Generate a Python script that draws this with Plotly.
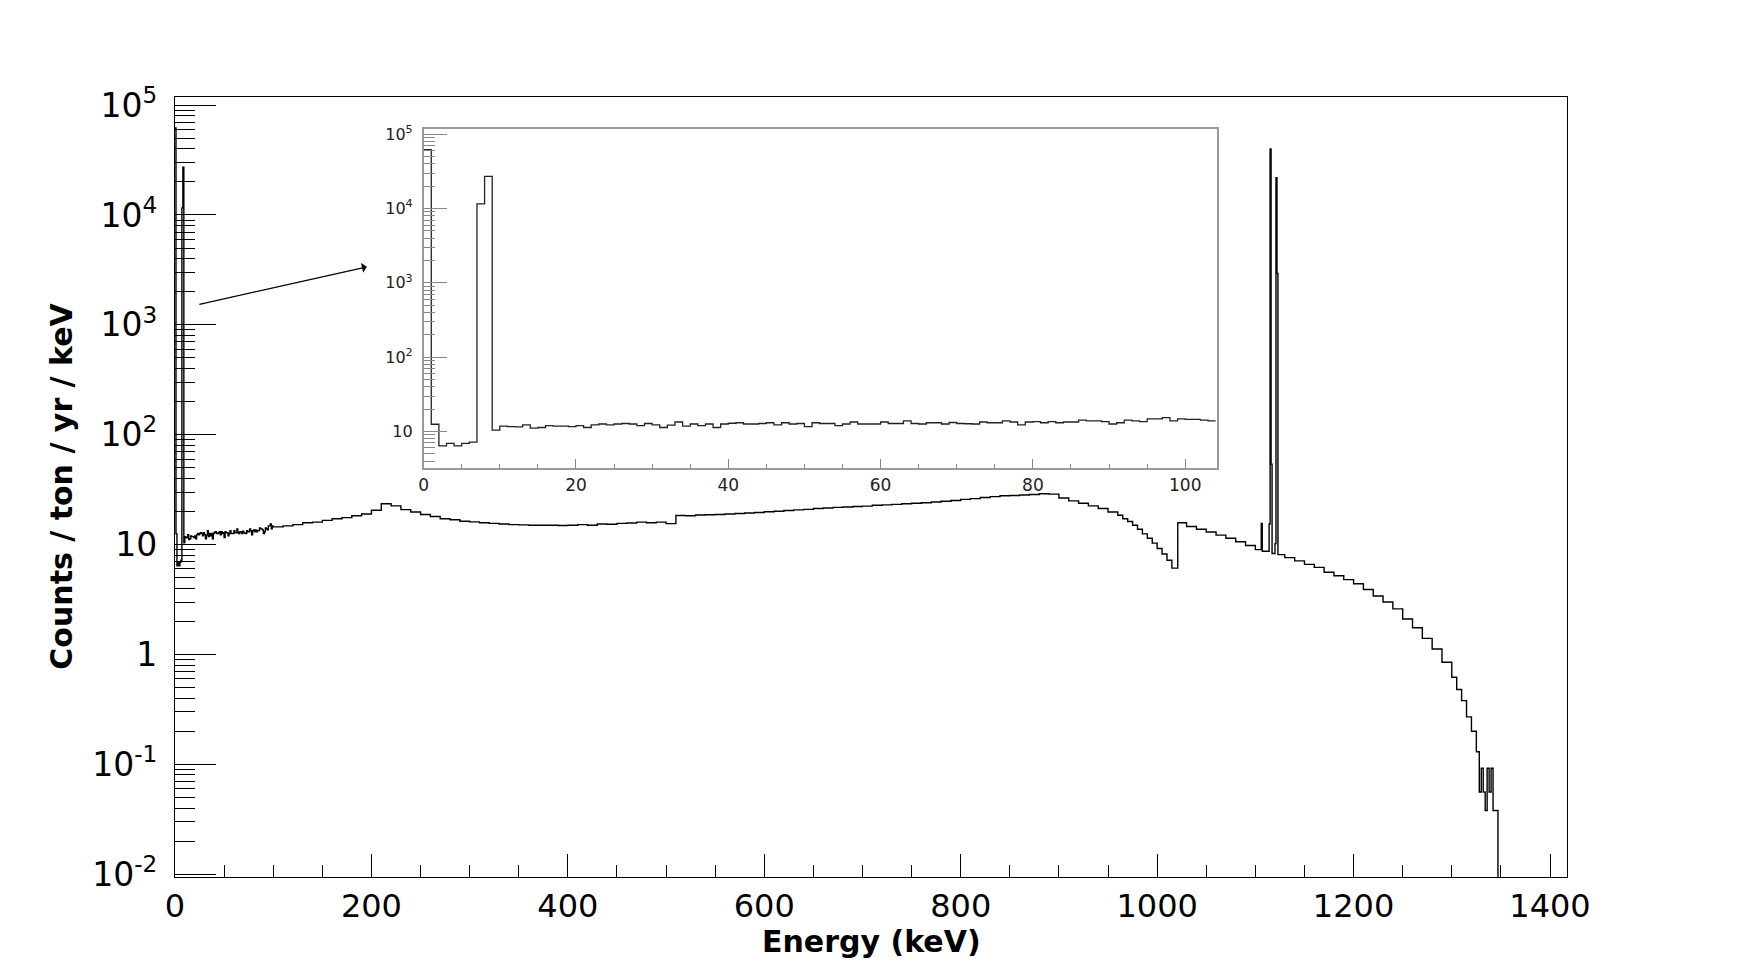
import plotly.graph_objects as go

# ---------------- data ----------------
# Inset / low-energy spectrum: 1 keV bins starting at 0 keV
inset_counts = [
    62000, 12.5, 6.4, 6.9, 6.4, 6.9, 7.2, 11600, 27200, 10.4,
    11.8, 11.6, 11.5, 12.3, 11.1, 11.3, 12.0, 11.8, 11.8, 11.6,
    12.0, 11.3, 12.3, 12.6, 12.3, 12.6, 12.8, 12.6, 12.0, 12.8,
    12.3, 11.3, 12.2, 13.4, 11.8, 12.6, 12.0, 12.6, 11.3, 12.6,
    12.9, 13.1, 12.6, 12.6, 12.8, 13.1, 12.3, 13.1, 12.6, 12.8,
    11.6, 13.1, 12.8, 12.8, 12.0, 12.6, 13.4, 12.6, 12.6, 12.6,
    13.4, 12.8, 12.8, 13.9, 12.8, 12.6, 13.1, 13.1, 12.6, 13.2,
    12.8, 12.7, 12.6, 13.4, 13.1, 13.1, 13.9, 13.4, 12.3, 13.4,
    13.6, 13.1, 13.6, 13.1, 13.4, 13.4, 14.2, 13.9, 13.9, 13.6,
    12.6, 13.1, 14.2, 13.9, 13.6, 14.8, 14.8, 15.4, 13.9, 14.8,
    14.5, 14.5, 14.2, 13.9,
]

# Full spectrum above 100 keV: bin edges (keV) and counts / ton / yr / keV
main_hi_edges = [
    100, 110, 120, 130, 140, 150, 160, 170, 180, 190,
    200, 210, 220, 230, 240, 250, 260, 270, 280, 290,
    300, 310, 320, 330, 340, 350, 360, 370, 380, 390,
    400, 410, 420, 430, 440, 450, 460, 470, 480, 490,
    500, 510, 520, 530, 540, 550, 560, 570, 580, 590,
    600, 610, 620, 630, 640, 650, 660, 670, 680, 690,
    700, 710, 720, 730, 740, 750, 760, 770, 780, 790,
    800, 810, 820, 830, 840, 850, 860, 870, 880, 890,
    900, 910, 920, 930, 940, 950,
    960, 965, 970, 975, 980, 985, 990, 995, 1000, 1005, 1010, 1015,
    1021, 1030, 1040, 1050, 1060, 1070, 1080, 1090,
    1100, 1106, 1107, 1114, 1115, 1116, 1117, 1120, 1121, 1122, 1123,
    1130, 1140, 1150, 1160, 1170, 1180, 1190, 1200, 1210, 1220,
    1230, 1240, 1250, 1260, 1270, 1280, 1290,
    1300, 1305, 1310, 1315, 1320, 1325,
    1328, 1330, 1332, 1334, 1336, 1338, 1340, 1342, 1344, 1346, 1347,
]
main_hi_counts = [
    14.5, 14.8, 15.2, 15.8, 16.0, 16.6, 17.2, 17.6, 18.3, 19.0,
    20.5, 23.5, 22.5, 20.8, 19.8, 18.8, 18.0, 17.2, 16.8, 16.3,
    16.1, 15.8, 15.6, 15.4, 15.2, 15.1, 15.0, 15.0, 15.0, 14.9,
    15.0, 15.2, 15.0, 15.4, 15.3, 15.6, 15.7, 16.0, 15.8, 16.0,
    15.5, 18.4, 18.3, 18.6, 18.7, 18.8, 19.0, 19.2, 19.4, 19.6,
    19.9, 20.1, 20.4, 20.7, 20.9, 21.3, 21.5, 21.8, 22.0, 22.2,
    22.4, 22.8, 23.0, 23.2, 23.5, 23.8, 24.0, 24.4, 24.8, 25.2,
    25.8, 26.2, 26.8, 27.3, 27.8, 28.0, 28.3, 28.6, 29.0, 28.8,
    26.5, 25.0, 23.8, 22.5, 21.3, 19.8,
    18.5, 17.2, 16.2, 15.0, 13.8, 12.5, 11.4, 10.3, 9.2, 8.2, 7.2, 6.1,
    15.8, 14.6, 13.8, 13.0, 12.2, 11.4, 10.6, 9.8,
    9.0, 15.6, 8.7, 15.4, 40000, 54, 8.3, 10.2, 21900, 2930, 8.1,
    7.6, 7.1, 6.6, 6.2, 5.6, 5.2, 4.8, 4.4, 3.9, 3.4,
    3.0, 2.6, 2.1, 1.75, 1.4, 1.12, 0.85,
    0.62, 0.48, 0.38, 0.27, 0.2, 0.13,
    0.056, 0.092, 0.056, 0.038, 0.092, 0.056, 0.092, 0.038, 0.038, 0.038,
]

main_x_ticks = [0, 200, 400, 600, 800, 1000, 1200, 1400]
main_y_tickvals = [0.01, 0.1, 1, 10, 100, 1000, 10000, 100000]
main_y_ticktext = ["10<sup>-2</sup>", "10<sup>-1</sup>", "1", "10",
                   "10<sup>2</sup>", "10<sup>3</sup>", "10<sup>4</sup>", "10<sup>5</sup>"]
inset_x_ticks = [0, 20, 40, 60, 80, 100]
inset_y_tickvals = [10, 100, 1000, 10000, 100000]
inset_y_ticktext = ["10", "10<sup>2</sup>", "10<sup>3</sup>", "10<sup>4</sup>", "10<sup>5</sup>"]

x_title = "Energy (keV)"
y_title = "Counts / ton / yr / keV"

# ---------------- geometry ----------------
W, H = 1742, 975
L, R, T, B = 174.5, 1742 - 1567.3, 96.7, 975 - 877
PW, PH = W - L - R, H - T - B

MAIN_YR = [-2.026, 5.074]
MAIN_XR = [0, 1417.3]
INSET_XR = [0, 104.2]
INSET_YR = [0.502, 5.067]


def px_x(p):
    return (p - L) / PW


def px_y(p):
    return (H - B - p) / PH


# build main histogram from low-energy 1 keV bins + coarse bins
low_edges = list(range(0, 101))
main_edges = low_edges[:-1] + main_hi_edges
main_counts = inset_counts[:100] + main_hi_counts

floor = 10 ** MAIN_YR[0]
mx = list(main_edges) + [main_edges[-1]]
my = list(main_counts) + [main_counts[-1], floor]

inset_edges = list(range(0, len(inset_counts) + 1))
ix = inset_edges
iy = list(inset_counts) + [inset_counts[-1]]

FONT = "DejaVu Sans"

fig = go.Figure()
fig.add_trace(go.Scatter(x=mx, y=my, mode="lines", line=dict(shape="hv", color="black", width=1.4),
                         xaxis="x", yaxis="y", hoverinfo="skip", showlegend=False))
fig.add_trace(go.Scatter(x=ix, y=iy, mode="lines", line=dict(shape="hv", color="#222222", width=1.3),
                         xaxis="x2", yaxis="y2", hoverinfo="skip", showlegend=False, cliponaxis=True))

minor_main = [m * 10 ** d for d in range(-2, 5) for m in range(2, 10)]
minor_inset = [m * 10 ** d for d in range(0, 5) for m in range(2, 10)]

fig.update_layout(
    width=W, height=H, autosize=False,
    margin=dict(l=L, r=R, t=T, b=B, pad=0),
    paper_bgcolor="white", plot_bgcolor="white",
    font=dict(family=FONT, color="black"),
    showlegend=False,
    xaxis=dict(
        domain=[0, 1], range=MAIN_XR, anchor="y",
        showline=True, linecolor="black", linewidth=1.3, mirror=True,
        showgrid=False, zeroline=False,
        tickmode="array", tickvals=main_x_ticks, ticktext=[str(v) for v in main_x_ticks],
        ticks="inside", ticklen=23, tickwidth=1, tickcolor="black",
        minor=dict(tickmode="array", tickvals=[v for v in range(50, 1401, 50) if v % 200],
                   ticks="inside", ticklen=12, tickwidth=1, tickcolor="black", showgrid=False),
        tickfont=dict(family=FONT, size=32, color="black"),
        ticklabelstandoff=0,
    ),
    yaxis=dict(
        domain=[0, 1], type="log", range=MAIN_YR, anchor="x",
        showline=True, linecolor="black", linewidth=1.3, mirror=True,
        showgrid=False, zeroline=False,
        tickmode="array", tickvals=main_y_tickvals, ticktext=main_y_ticktext,
        ticks="inside", ticklen=41, tickwidth=1, tickcolor="black",
        minor=dict(tickmode="array", tickvals=minor_main,
                   ticks="inside", ticklen=20, tickwidth=1, tickcolor="black", showgrid=False),
        tickfont=dict(family=FONT, size=33, color="black"),
        ticklabelstandoff=10,
    ),
    xaxis2=dict(
        domain=[px_x(423.3), px_x(1217.3)], range=INSET_XR, anchor="y2",
        showline=True, linecolor="#9a9a9a", linewidth=1.5, mirror=True,
        showgrid=False, zeroline=False,
        tickmode="array", tickvals=inset_x_ticks, ticktext=[str(v) for v in inset_x_ticks],
        ticks="inside", ticklen=10, tickwidth=1, tickcolor="#888888",
        minor=dict(tickmode="array", tickvals=[v for v in range(5, 104, 5) if v % 20],
                   ticks="inside", ticklen=5, tickwidth=1, tickcolor="#888888", showgrid=False),
        tickfont=dict(family=FONT, size=17, color="#222222"),
        ticklabelstandoff=0,
    ),
    yaxis2=dict(
        domain=[px_y(468.3), px_y(129)], type="log", range=INSET_YR, anchor="x2",
        showline=True, linecolor="#9a9a9a", linewidth=1.5, mirror=True,
        showgrid=False, zeroline=False,
        tickmode="array", tickvals=inset_y_tickvals, ticktext=inset_y_ticktext,
        ticks="inside", ticklen=24, tickwidth=1, tickcolor="#888888",
        minor=dict(tickmode="array", tickvals=minor_inset,
                   ticks="inside", ticklen=12, tickwidth=1, tickcolor="#888888", showgrid=False),
        tickfont=dict(family=FONT, size=16, color="#222222"),
        ticklabelstandoff=6,
    ),
    annotations=[
        dict(text="<b>" + x_title + "</b>", xref="paper", yref="paper",
             x=0.5, y=px_y(942), xanchor="center", yanchor="middle", showarrow=False,
             font=dict(family=FONT, size=30, color="black")),
        dict(text="<b>" + y_title + "</b>", xref="paper", yref="paper",
             x=px_x(61), y=px_y(486), xanchor="center", yanchor="middle", showarrow=False,
             textangle=-90, font=dict(family=FONT, size=30, color="black")),
        dict(text="", xref="paper", yref="paper", x=px_x(366.6), y=px_y(266.6),
             ax=197.5 - 366.6, ay=304.5 - 266.6, axref="pixel", ayref="pixel",
             showarrow=True, arrowhead=1, arrowsize=1.4, arrowwidth=1.2, arrowcolor="black",
             standoff=0, startstandoff=0),
    ],
)

fig.write_html("out.html")
